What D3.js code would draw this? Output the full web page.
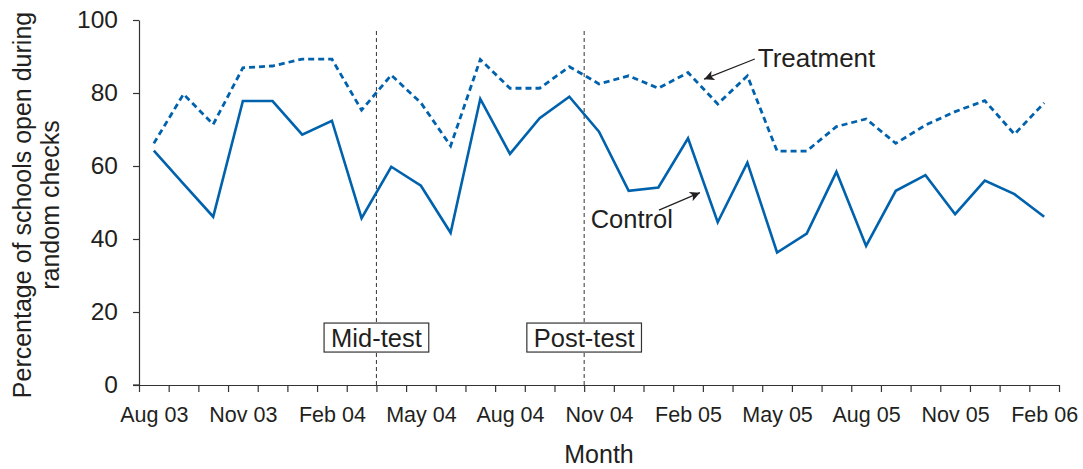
<!DOCTYPE html>
<html>
<head>
<meta charset="utf-8">
<script src="https://cdn.jsdelivr.net/npm/d3@7"></script>
<style>
  body { margin: 0; background: #fff; }
  text { font-family: "Liberation Sans", Arial, sans-serif; fill: #231f20; }
</style>
</head>
<body>
<script>
var months = ["Aug 03","Sep 03","Oct 03","Nov 03","Dec 03","Jan 04","Feb 04","Mar 04","Apr 04","May 04",
  "Jun 04","Jul 04","Aug 04","Sep 04","Oct 04","Nov 04","Dec 04","Jan 05","Feb 05","Mar 05","Apr 05",
  "May 05","Jun 05","Jul 05","Aug 05","Sep 05","Oct 05","Nov 05","Dec 05","Jan 06","Feb 06"];

var treatment = [66.2, 79.7, 71.4, 86.9, 87.4, 89.3, 89.3, 75.3, 84.9, 77.3, 65.5, 89.2, 81.3, 81.3, 87.2,
  82.5, 84.7, 81.3, 85.6, 77.0, 84.7, 64.1, 64.1, 70.8, 72.9, 66.2, 71.2, 74.9, 77.9, 68.7, 77.3];

var control = [64.2, 55.1, 46.1, 77.8, 77.8, 68.6, 72.4, 45.7, 59.8, 54.6, 41.7, 78.4, 63.3, 73.1, 79.0,
  69.4, 53.2, 54.1, 67.6, 44.6, 60.9, 36.3, 41.5, 58.4, 38.1, 53.2, 57.5, 46.8, 56.0, 52.3, 46.1];

var yTicks = [0, 20, 40, 60, 80, 100];
var tests = [{ label: "Mid-test", month: "Apr 04" }, { label: "Post-test", month: "Nov 04" }];

var w = 1083, h = 469;
var mLeft = 139, mRight = 1059, mTop = 20, mBottom = 385;
var blue = "#0062ad";

var svg = d3.select("body").append("svg")
  .attr("width", w)
  .attr("height", h);

// month boundaries on a linear scale, points sit mid-month
var x = d3.scaleLinear().domain([0, months.length]).range([mLeft, mRight]);
var y = d3.scaleLinear().domain([0, 100]).range([mBottom, mTop]);

// --- Axes ---
svg.append("g")
  .attr("transform", "translate(0," + mBottom + ")")
  .call(d3.axisBottom(x).tickValues(d3.range(0, months.length + 1)).tickFormat("").tickSize(7).tickSizeOuter(0));

var xLabels = svg.append("g")
  .attr("transform", "translate(0," + mBottom + ")")
  .call(d3.axisBottom(x)
    .tickValues(d3.range(0, months.length, 3).map(function(i) { return i + 0.5; }))
    .tickFormat(function(d) { return months[d - 0.5]; })
    .tickSize(0).tickPadding(22));
xLabels.select(".domain").remove();

var yAxis = svg.append("g")
  .attr("transform", "translate(" + mLeft + ",0)")
  .call(d3.axisLeft(y).tickValues(yTicks).tickSize(6).tickSizeOuter(0).tickPadding(15));

svg.selectAll(".domain, .tick line").attr("stroke", "#333").attr("stroke-width", 1.2);
xLabels.selectAll("text").style("font-size", "21.5px").attr("fill", "#231f20");
yAxis.selectAll("text").style("font-size", "24.5px").attr("fill", "#231f20");
// extend x axis left to meet the 0 tick
svg.append("line").attr("x1", mLeft - 6).attr("x2", mLeft).attr("y1", mBottom).attr("y2", mBottom).attr("stroke", "#333").attr("stroke-width", 1.2);

svg.append("text")
  .attr("x", (mLeft + mRight) / 2)
  .attr("y", 463)
  .attr("text-anchor", "middle")
  .style("font-size", "25px")
  .text("Month");

var yTitle = svg.append("text")
  .attr("transform", "translate(31,205) rotate(-90)")
  .attr("text-anchor", "middle")
  .style("font-size", "25px");
yTitle.append("tspan").attr("x", 0).attr("dy", 0).text("Percentage of schools open during");
yTitle.append("tspan").attr("x", 0).attr("dy", "1.12em").text("random checks");

// --- Test markers ---
tests.forEach(function(t) {
  var xi = x(months.indexOf(t.month));
  svg.append("line")
    .attr("x1", xi).attr("x2", xi)
    .attr("y1", 31).attr("y2", mBottom)
    .attr("stroke", "#333")
    .attr("stroke-width", 1)
    .attr("stroke-dasharray", "4,3");
  var box = svg.append("rect");
  var lbl = svg.append("text")
    .attr("x", xi)
    .attr("y", y(13) + 9)
    .attr("text-anchor", "middle")
    .style("font-size", "25.5px")
    .text(t.label);
  var bb = lbl.node().getBBox();
  box.attr("x", bb.x - 7).attr("y", y(13) - 14.5)
    .attr("width", bb.width + 14).attr("height", 29)
    .attr("fill", "#fff").attr("stroke", "#333").attr("stroke-width", 1.2);
});

// --- Lines ---
var line = d3.line()
  .x(function(d, i) { return x(i + 0.5); })
  .y(function(d) { return y(d); });

svg.append("path")
  .datum(control)
  .attr("d", line)
  .attr("fill", "none")
  .attr("stroke", blue)
  .attr("stroke-width", 2.6)
  .attr("stroke-linejoin", "miter");

svg.append("path")
  .datum(treatment)
  .attr("d", line)
  .attr("fill", "none")
  .attr("stroke", blue)
  .attr("stroke-width", 2.8)
  .attr("stroke-dasharray", "6,4");

// --- Annotations ---
svg.append("defs").append("marker")
  .attr("id", "arrow")
  .attr("viewBox", "0 0 10 10")
  .attr("refX", 10).attr("refY", 5)
  .attr("markerWidth", 12).attr("markerHeight", 10)
  .attr("markerUnits", "userSpaceOnUse")
  .attr("orient", "auto")
  .append("path")
  .attr("d", "M0,0 L10,5 L0,10 L2.5,5 z")
  .attr("fill", "#231f20");

svg.append("line")
  .attr("x1", x(20.75)).attr("y1", y(89.3))
  .attr("x2", x(19.04)).attr("y2", y(83.8))
  .attr("stroke", "#231f20").attr("stroke-width", 1.2)
  .attr("marker-end", "url(#arrow)");
svg.append("text")
  .attr("x", x(20.85)).attr("y", y(87.1))
  .style("font-size", "26px")
  .text("Treatment");

svg.append("line")
  .attr("x1", x(17.52)).attr("y1", y(47.9))
  .attr("x2", x(18.9)).attr("y2", y(52.7))
  .attr("stroke", "#231f20").attr("stroke-width", 1.2)
  .attr("marker-end", "url(#arrow)");
svg.append("text")
  .attr("x", x(15.22)).attr("y", y(43))
  .style("font-size", "25.5px")
  .text("Control");
</script>
</body>
</html>
